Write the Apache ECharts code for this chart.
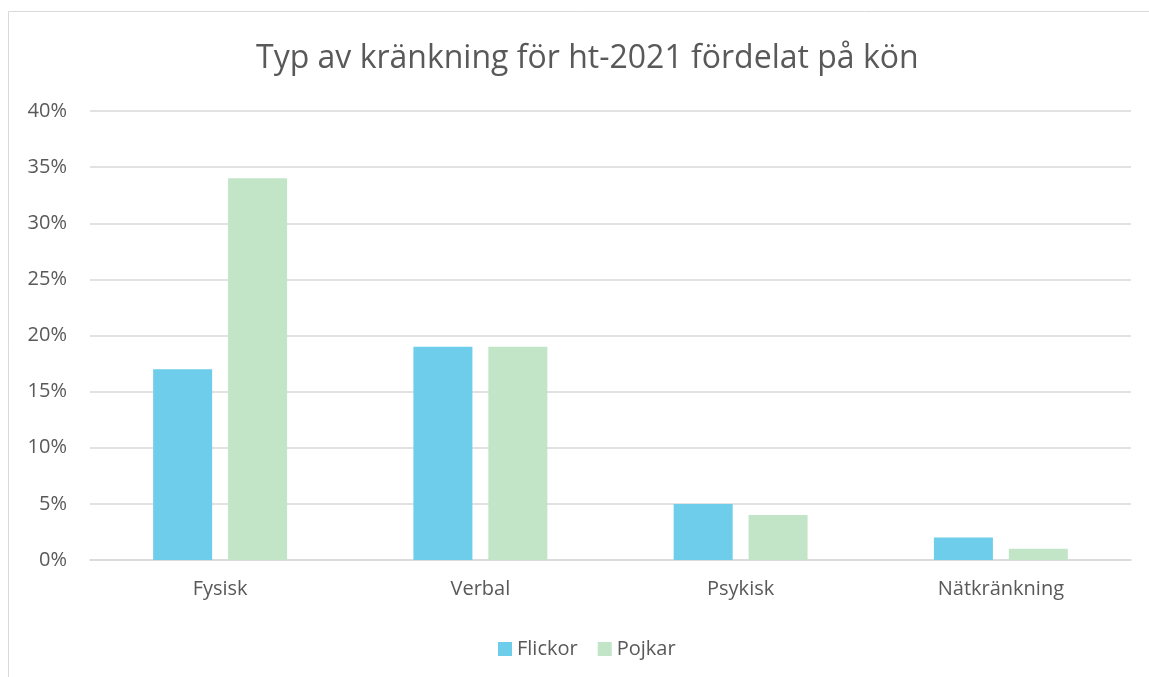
<!DOCTYPE html>
<html>
<head>
<meta charset="utf-8">
<script src="https://cdn.jsdelivr.net/npm/echarts@6/dist/echarts.min.js"></script>
<style>
  html, body { margin: 0; padding: 0; background: #fff; }
  #chart { width: 1149px; height: 677px; }
</style>
</head>
<body>
<div id="chart"></div>
<script>
var categories = ['Fysisk', 'Verbal', 'Psykisk', 'Nätkränkning'];
var flickor = [17, 19, 5, 2];
var pojkar = [34, 19, 4, 1];

var textColor = '#595959';
var font = 'Open Sans';

var myChart = echarts.init(document.getElementById('chart'));
var option = {
  backgroundColor: '#fff',
  animation: false,
  title: {
    text: 'Typ av kränkning för ht-2021 fördelat på kön',
    left: 251,
    top: 38,
    textStyle: { color: textColor, fontFamily: font, fontSize: 32, fontWeight: 'normal' }
  },
  graphic: [{
    type: 'rect',
    shape: { x: 8.5, y: 11.5, width: 1200, height: 700 },
    style: { fill: 'none', stroke: '#d9d9d9', lineWidth: 1 },
    silent: true
  }],
  legend: {
    top: 634,
    left: 493,
    itemWidth: 14,
    itemHeight: 14,
    itemGap: 20,
    icon: 'rect',
    textStyle: { color: textColor, fontFamily: font, fontSize: 20 },
    data: ['Flickor', 'Pojkar']
  },
  grid: { left: 90, right: 18, top: 111, bottom: 117 },
  xAxis: {
    type: 'category',
    data: categories,
    axisTick: { show: false },
    axisLine: { lineStyle: { color: '#d9d9d9', width: 1.5 } },
    axisLabel: { color: textColor, fontFamily: font, fontSize: 20, margin: 19 }
  },
  yAxis: {
    type: 'value',
    min: 0,
    max: 40,
    interval: 5,
    axisLabel: { formatter: '{value}%', color: textColor, fontFamily: font, fontSize: 20, margin: 23 },
    splitLine: { lineStyle: { color: '#d9d9d9', width: 1.5 } },
    axisLine: { show: false },
    axisTick: { show: false }
  },
  series: [
    {
      name: 'Flickor',
      type: 'bar',
      data: flickor,
      barWidth: 59,
      barGap: '27%',
      itemStyle: { color: '#6dcdea' }
    },
    {
      name: 'Pojkar',
      type: 'bar',
      data: pojkar,
      barWidth: 59,
      itemStyle: { color: '#c2e5c8' }
    }
  ]
};
myChart.setOption(option);
</script>
</body>
</html>
